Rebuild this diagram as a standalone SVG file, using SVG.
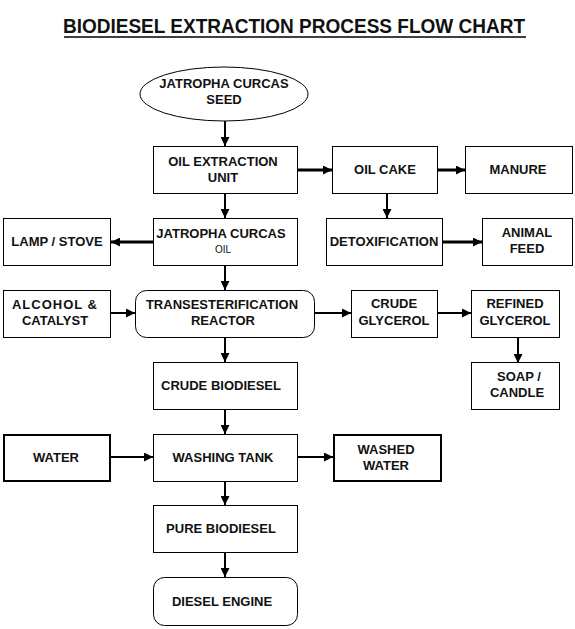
<svg xmlns="http://www.w3.org/2000/svg" width="575" height="629" viewBox="0 0 575 629">
<style>
.b{fill:#fff;stroke:#000;stroke-width:1}
.bt{fill:#fff;stroke:#000;stroke-width:2}
.t{font-family:"Liberation Sans",Arial,sans-serif;font-weight:bold;font-size:13px;fill:#111;text-anchor:middle}
.s{font-family:"Liberation Sans",Arial,sans-serif;font-size:10px;fill:#111;text-anchor:middle}
.c{stroke:#000;stroke-width:2;fill:none;marker-end:url(#ah)}
.k{stroke-width:3}
</style>
<defs>
<marker id="ah" viewBox="0 0 10 10" refX="10" refY="5" markerWidth="9" markerHeight="9" markerUnits="userSpaceOnUse" orient="auto">
<path d="M0,0 L10,5 L0,10 z" fill="#000"/>
</marker>
</defs>
<rect width="575" height="629" fill="#fff"/>
<g id="title">
<text x="294" y="33" font-family="Liberation Sans,Arial,sans-serif" font-weight="bold" font-size="20" text-anchor="middle" textLength="462" lengthAdjust="spacingAndGlyphs" fill="#111">BIODIESEL EXTRACTION PROCESS FLOW CHART</text>
<line x1="64" y1="37" x2="526" y2="37" stroke="#000" stroke-width="1.5"/>
</g>
<g id="connectors">
<line class="c" x1="225" y1="121" x2="225" y2="146"/>
<line class="c k" x1="298" y1="170" x2="332" y2="170"/>
<line class="c k" x1="437" y1="170" x2="465" y2="170"/>
<line class="c" x1="387" y1="193" x2="387" y2="218"/>
<line class="c k" x1="443" y1="242" x2="482" y2="242"/>
<line class="c" x1="225" y1="193" x2="225" y2="218"/>
<line class="c k" x1="153" y1="242" x2="111" y2="242"/>
<line class="c" x1="225" y1="265" x2="225" y2="290"/>
<line class="c" x1="111" y1="313" x2="135" y2="313"/>
<line class="c" x1="315" y1="313" x2="351" y2="313"/>
<line class="c" x1="438" y1="313" x2="471" y2="313"/>
<line class="c" x1="518" y1="338" x2="518" y2="363"/>
<line class="c" x1="225" y1="338" x2="225" y2="362"/>
<line class="c" x1="225" y1="409" x2="225" y2="434"/>
<line class="c" x1="111" y1="457" x2="153" y2="457"/>
<line class="c" x1="298" y1="457" x2="333" y2="457"/>
<line class="c" x1="225" y1="481" x2="225" y2="505"/>
<line class="c" x1="225" y1="553" x2="225" y2="577"/>
</g>
<g id="seed">
<ellipse class="b" cx="224" cy="94" rx="84" ry="27"/>
<text class="t" x="224" y="88">JATROPHA CURCAS</text>
<text class="t" x="224" y="104">SEED</text>
</g>
<g id="oil-extraction">
<rect class="b" x="153.5" y="146.5" width="144" height="47"/>
<text class="t" x="223" y="166">OIL EXTRACTION</text>
<text class="t" x="223" y="182">UNIT</text>
</g>
<g id="oil-cake">
<rect class="b" x="332.5" y="146.5" width="105" height="47"/>
<text class="t" x="385" y="174">OIL CAKE</text>
</g>
<g id="manure">
<rect class="b" x="465.5" y="146.5" width="107" height="47"/>
<text class="t" x="518" y="174">MANURE</text>
</g>
<g id="jatropha-oil">
<rect class="b" x="153.5" y="218.5" width="144" height="47"/>
<text class="t" x="221" y="238">JATROPHA CURCAS</text>
<text class="s" x="223" y="253">OIL</text>
</g>
<g id="lamp-stove">
<rect class="b" x="3.5" y="218.5" width="107" height="47"/>
<text class="t" x="57" y="246">LAMP / STOVE</text>
</g>
<g id="detoxification">
<rect class="b" x="326.5" y="218.5" width="116" height="47"/>
<text class="t" x="384" y="246">DETOXIFICATION</text>
</g>
<g id="animal-feed">
<rect class="b" x="482.5" y="218.5" width="90" height="47"/>
<text class="t" x="527" y="237">ANIMAL</text>
<text class="t" x="527" y="253">FEED</text>
</g>
<g id="alcohol-catalyst">
<rect class="b" x="3.5" y="290.5" width="107" height="47"/>
<text class="t" x="55" y="309" letter-spacing="1">ALCOHOL &amp;</text>
<text class="t" x="55" y="325">CATALYST</text>
</g>
<g id="transesterification">
<rect class="b" x="135.5" y="290.5" width="179" height="47" rx="11"/>
<text class="t" x="222" y="309">TRANSESTERIFICATION</text>
<text class="t" x="223" y="325">REACTOR</text>
</g>
<g id="crude-glycerol">
<rect class="b" x="351.5" y="290.5" width="86" height="47"/>
<text class="t" x="394" y="308">CRUDE</text>
<text class="t" x="394" y="325">GLYCEROL</text>
</g>
<g id="refined-glycerol">
<rect class="b" x="471.5" y="290.5" width="88" height="47"/>
<text class="t" x="515" y="308">REFINED</text>
<text class="t" x="515" y="325">GLYCEROL</text>
</g>
<g id="soap-candle">
<rect class="b" x="471.5" y="362.5" width="88" height="47"/>
<text class="t" x="519" y="381">SOAP /</text>
<text class="t" x="517" y="397">CANDLE</text>
</g>
<g id="crude-biodiesel">
<rect class="b" x="153.5" y="362.5" width="144" height="47"/>
<text class="t" x="221" y="390">CRUDE BIODIESEL</text>
</g>
<g id="water">
<rect class="bt" x="4" y="435" width="106" height="46"/>
<text class="t" x="56" y="462">WATER</text>
</g>
<g id="washing-tank">
<rect class="b" x="153.5" y="434.5" width="144" height="47"/>
<text class="t" x="223" y="462">WASHING TANK</text>
</g>
<g id="washed-water">
<rect class="bt" x="334" y="435" width="107" height="46"/>
<text class="t" x="386" y="454">WASHED</text>
<text class="t" x="386" y="470">WATER</text>
</g>
<g id="pure-biodiesel">
<rect class="b" x="153.5" y="505.5" width="144" height="47"/>
<text class="t" x="221" y="533">PURE BIODIESEL</text>
</g>
<g id="diesel-engine">
<rect class="b" x="153.5" y="577.5" width="144" height="48" rx="11"/>
<text class="t" x="222" y="606">DIESEL ENGINE</text>
</g>
</svg>
